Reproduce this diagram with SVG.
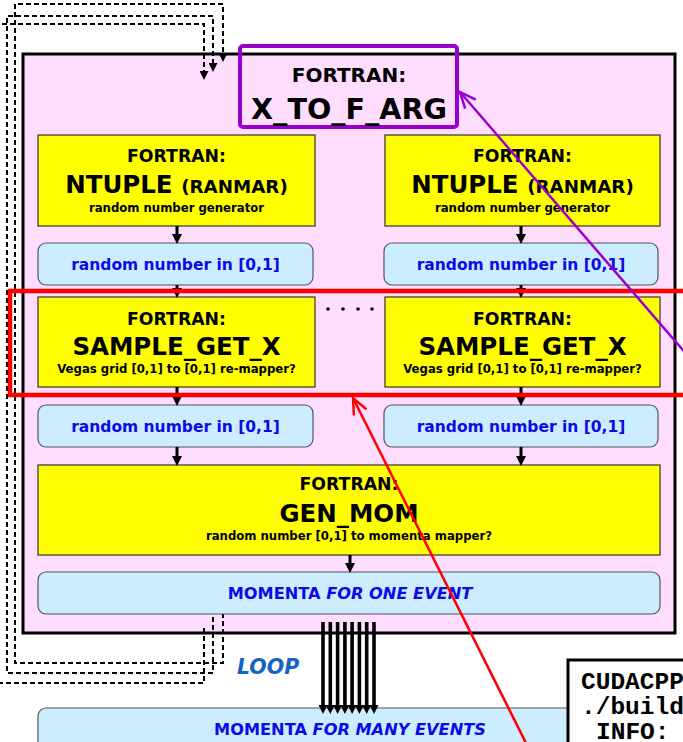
<svg xmlns="http://www.w3.org/2000/svg" width="683" height="742" viewBox="0 0 683 742">
  <style>
    .box-y { fill: #FFFF00; stroke: #333; stroke-width: 1.2; }
    .box-b { fill: #CCECFF; stroke: #555; stroke-width: 1.2; }
    .t { font-family: "DejaVu Sans", Verdana, sans-serif; font-weight: bold; text-anchor: middle; fill: #000; }
    .hd { font-size: 17.3px; }
    .big { font-size: 24.5px; }
    .sub { font-size: 11.7px; }
    .blue { font-size: 15.5px; fill: #0B0BE8; }
    .blue-cap { font-size: 16.2px; fill: #0B0BE8; }
    .it { font-style: italic; }
    .conn { stroke: #000; stroke-width: 3; fill: none; }
    .bundle { stroke: #000; stroke-width: 3.6; fill: none; }
    .dash { stroke: #000; stroke-width: 2; fill: none; stroke-dasharray: 5 3; }
    .code { font-family: "Liberation Mono", "Courier New", monospace; font-weight: bold; font-size: 24.5px; fill: #000; }
  </style>
  <defs>
    <marker id="ah" viewBox="0 0 10 10" refX="0" refY="5" markerWidth="10" markerHeight="10" markerUnits="userSpaceOnUse" orient="auto">
      <path d="M0,0 L10,5 L0,10 z" fill="#000"/>
    </marker>
    <marker id="dh" viewBox="0 0 10 10" refX="0" refY="5" markerWidth="9" markerHeight="9" markerUnits="userSpaceOnUse" orient="auto">
      <path d="M0,0 L10,5 L0,10 z" fill="#000"/>
    </marker>
    <marker id="bh" viewBox="0 0 10 10" refX="0" refY="5" markerWidth="10" markerHeight="9" markerUnits="userSpaceOnUse" orient="auto">
      <path d="M0,0 L10,5 L0,10 z" fill="#000"/>
    </marker>
    <marker id="open-red" viewBox="0 0 20 20" refX="18" refY="10" markerWidth="20" markerHeight="20" markerUnits="userSpaceOnUse" orient="auto">
      <path d="M2,3 L18,10 L2,17" fill="none" stroke="#FF0000" stroke-width="2.5"/>
    </marker>
    <marker id="open-purple" viewBox="0 0 20 20" refX="18" refY="10" markerWidth="20" markerHeight="20" markerUnits="userSpaceOnUse" orient="auto">
      <path d="M2,3 L18,10 L2,17" fill="none" stroke="#9900CC" stroke-width="2.5"/>
    </marker>
  </defs>

  <rect width="683" height="742" fill="#fff"/>

  <!-- outer loop body -->
  <g id="loop-body">
    <rect x="23" y="54" width="652" height="579" fill="#FFDDFF" stroke="#000" stroke-width="3"/>
  </g>

  <!-- dashed loop return paths -->
  <g id="loop-paths">
    <path class="dash" d="M223,605 V663 H15 V4 H223 V53" marker-end="url(#dh)"/>
    <path class="dash" d="M213,617 V673 H7 V16 H213 V63" marker-end="url(#dh)"/>
    <path class="dash" d="M204,628 V683 H-6 M-6,24 H204 V71" marker-end="url(#dh)"/>
  </g>

  <g id="x-to-f-arg">
    <rect x="240" y="46" width="217" height="81" rx="3" fill="none" stroke="#9900CC" stroke-width="4"/>
    <text class="t" x="349" y="82" font-size="20">FORTRAN:</text>
    <text class="t" x="349" y="119" font-size="28.6">X_TO_F_ARG</text>
  </g>

  <g id="ntuple-1">
    <rect class="box-y" x="38" y="135" width="277" height="91"/>
    <text class="t hd" x="176.5" y="162">FORTRAN:</text>
    <text class="t big" x="176.5" y="193">NTUPLE <tspan font-size="18.3">(RANMAR)</tspan></text>
    <text class="t sub" x="176.5" y="212">random number generator</text>
  </g>
  <g id="ntuple-2">
    <rect class="box-y" x="385" y="135" width="275" height="91"/>
    <text class="t hd" x="522.5" y="162">FORTRAN:</text>
    <text class="t big" x="522.5" y="193">NTUPLE <tspan font-size="18.3">(RANMAR)</tspan></text>
    <text class="t sub" x="522.5" y="212">random number generator</text>
  </g>

  <g id="rnd-1a">
    <rect class="box-b" x="38" y="243" width="275" height="42" rx="8"/>
    <text class="t blue" x="175.5" y="270">random number in [0,1]</text>
  </g>
  <g id="rnd-2a">
    <rect class="box-b" x="384" y="243" width="274" height="42" rx="8"/>
    <text class="t blue" x="521" y="270">random number in [0,1]</text>
  </g>

  <g id="sample-1">
    <rect class="box-y" x="38" y="297" width="277" height="90"/>
    <text class="t hd" x="176.5" y="325">FORTRAN:</text>
    <text class="t big" x="176.5" y="355">SAMPLE_GET_X</text>
    <text class="t sub" x="176.5" y="373">Vegas grid [0,1] to [0,1] re-mapper?</text>
  </g>
  <g id="sample-2">
    <rect class="box-y" x="385" y="297" width="275" height="90"/>
    <text class="t hd" x="522.5" y="325">FORTRAN:</text>
    <text class="t big" x="522.5" y="355">SAMPLE_GET_X</text>
    <text class="t sub" x="522.5" y="373">Vegas grid [0,1] to [0,1] re-mapper?</text>
  </g>

  <g id="ellipsis">
    <circle cx="328" cy="309" r="1.8"/>
    <circle cx="343" cy="309" r="1.8"/>
    <circle cx="358" cy="309" r="1.8"/>
    <circle cx="372" cy="309" r="1.8"/>
  </g>

  <g id="rnd-1b">
    <rect class="box-b" x="38" y="405" width="275" height="42" rx="8"/>
    <text class="t blue" x="175.5" y="432">random number in [0,1]</text>
  </g>
  <g id="rnd-2b">
    <rect class="box-b" x="384" y="405" width="274" height="42" rx="8"/>
    <text class="t blue" x="521" y="432">random number in [0,1]</text>
  </g>

  <g id="gen-mom">
    <rect class="box-y" x="38" y="465" width="622" height="90"/>
    <text class="t hd" x="349" y="490">FORTRAN:</text>
    <text class="t big" x="349" y="522">GEN_MOM</text>
    <text class="t sub" x="349" y="540">random number [0,1] to momenta mapper?</text>
  </g>

  <g id="momenta-one">
    <rect class="box-b" x="38" y="572" width="622" height="42" rx="8"/>
    <text class="t blue-cap" x="350" y="599">MOMENTA <tspan class="it">FOR ONE EVENT</tspan></text>
  </g>

  <g id="loop-label">
    <text x="237" y="674" font-family="DejaVu Sans, Verdana, sans-serif" font-weight="bold" font-style="italic" font-size="20.5" fill="#1565C0">LOOP</text>
  </g>

  <g id="momenta-many">
    <rect class="box-b" x="38" y="708" width="560" height="60" rx="8"/>
    <text class="t blue-cap" x="350" y="735">MOMENTA <tspan class="it">FOR MANY EVENTS</tspan></text>
  </g>

  <g id="code-panel">
    <rect x="568" y="660" width="140" height="100" fill="#fff" stroke="#000" stroke-width="3"/>
    <text class="code" x="581" y="689">CUDACPP</text>
    <text class="code" x="581" y="714">./build</text>
    <text class="code" x="596" y="739">INFO:</text>
  </g>

  <!-- flow connectors -->
  <g id="connectors">
    <line class="conn" x1="177" y1="226" x2="177" y2="234" marker-end="url(#ah)"/>
    <line class="conn" x1="177" y1="285" x2="177" y2="288" marker-end="url(#ah)"/>
    <line class="conn" x1="177" y1="387" x2="177" y2="396" marker-end="url(#ah)"/>
    <line class="conn" x1="177" y1="447" x2="177" y2="456" marker-end="url(#ah)"/>
    <line class="conn" x1="521" y1="226" x2="521" y2="234" marker-end="url(#ah)"/>
    <line class="conn" x1="521" y1="285" x2="521" y2="288" marker-end="url(#ah)"/>
    <line class="conn" x1="521" y1="387" x2="521" y2="396" marker-end="url(#ah)"/>
    <line class="conn" x1="521" y1="447" x2="521" y2="456" marker-end="url(#ah)"/>
    <line class="conn" x1="350" y1="555" x2="350" y2="563" marker-end="url(#ah)"/>
    <!-- bundle: many events -->
    <g>
      <line class="bundle" x1="323" y1="622" x2="323" y2="705" marker-end="url(#bh)"/>
      <line class="bundle" x1="330.3" y1="622" x2="330.3" y2="705" marker-end="url(#bh)"/>
      <line class="bundle" x1="337.6" y1="622" x2="337.6" y2="705" marker-end="url(#bh)"/>
      <line class="bundle" x1="344.9" y1="622" x2="344.9" y2="705" marker-end="url(#bh)"/>
      <line class="bundle" x1="352.1" y1="622" x2="352.1" y2="705" marker-end="url(#bh)"/>
      <line class="bundle" x1="359.4" y1="622" x2="359.4" y2="705" marker-end="url(#bh)"/>
      <line class="bundle" x1="366.7" y1="622" x2="366.7" y2="705" marker-end="url(#bh)"/>
      <line class="bundle" x1="374" y1="622" x2="374" y2="705" marker-end="url(#bh)"/>
    </g>
  </g>

  <!-- highlight overlays -->
  <g id="highlight">
    <rect x="10" y="291" width="690" height="104" fill="none" stroke="#FF0000" stroke-width="4.5"/>
    <line x1="527" y1="745" x2="353" y2="398" stroke="#FF0000" stroke-width="2.5" marker-end="url(#open-red)"/>
    <line x1="688" y1="356" x2="460" y2="92" stroke="#9900CC" stroke-width="2.5" marker-end="url(#open-purple)"/>
  </g>
</svg>
